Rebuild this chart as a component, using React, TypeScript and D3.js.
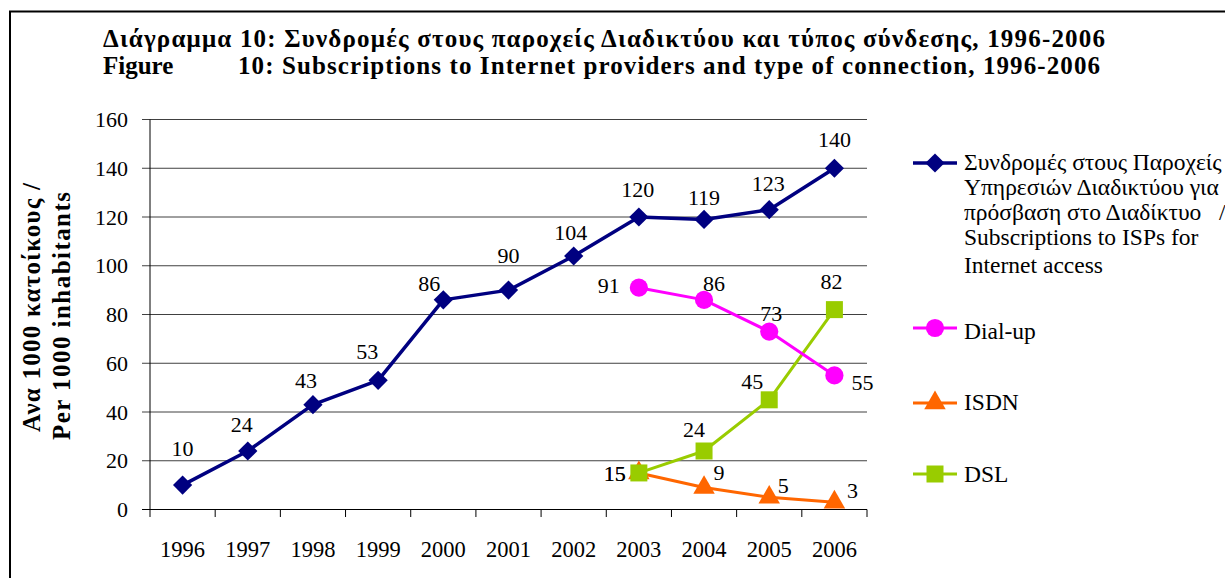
import React from "react";
import * as d3 from "d3";

const years = ["1996","1997","1998","1999","2000","2001","2002","2003","2004","2005","2006"];
const isps = [10, 24, 43, 53, 86, 90, 104, 120, 119, 123, 140];
const dialup = [null, null, null, null, null, null, null, 91, 86, 73, 55];
const isdn = [null, null, null, null, null, null, null, 15, 9, 5, 3];
const dsl = [null, null, null, null, null, null, null, 15, 24, 45, 82];
const yTicks = [0, 20, 40, 60, 80, 100, 120, 140, 160];

const titleLine1 = "Διάγραμμα 10: Συνδρομές στους παροχείς Διαδικτύου και τύπος σύνδεσης, 1996-2006";
const titleLine2a = "Figure";
const titleLine2b = "10: Subscriptions to Internet providers and type of connection, 1996-2006";
const yTitle1 = "Ανα 1000 κατοίκους /";
const yTitle2 = "Per 1000 inhabitants";
const ispLegend = [
  "Συνδρομές στους Παροχείς",
  "Υπηρεσιών Διαδικτύου για",
  "πρόσβαση στο Διαδίκτυο",
  "Subscriptions to ISPs for",
  "Internet access",
];

const FONT = "'Liberation Serif', 'Times New Roman', serif";

// label offsets (center of label relative to point)
const labelOffsets: Record<string, [number, number][]> = {
  isps: [[0,-37],[-6,-27],[-7,-24],[-11,-29],[-14,-17],[0,-35],[-3,-24],[-1,-28],[0,-22],[-1,-26],[0,-29]],
  dialup: [[0,0],[0,0],[0,0],[0,0],[0,0],[0,0],[0,0],[-30,-2],[10,-17],[2,-18],[28,7]],
  isdn: [[0,0],[0,0],[0,0],[0,0],[0,0],[0,0],[0,0],[-24,0],[15,-15],[14,-12],[18,-12]],
  dsl: [[0,0],[0,0],[0,0],[0,0],[0,0],[0,0],[0,0],[-24,0],[-10,-22],[-17,-19],[-3,-28]],
};

const series = [
  { key: "isps", values: isps, color: "#000080", width: 3.5, symbol: "diamond" },
  { key: "isdn", values: isdn, color: "#FF6600", width: 3, symbol: "triangle" },
  { key: "dsl", values: dsl, color: "#99CC00", width: 3, symbol: "square" },
  { key: "dialup", values: dialup, color: "#FF00FF", width: 3, symbol: "circle" },
];

function markerPath(kind: string): { d: string; rot: number } {
  if (kind === "diamond") return { d: d3.symbol(d3.symbolSquare, 185)() as string, rot: 45 };
  if (kind === "circle") return { d: d3.symbol(d3.symbolCircle, 260)() as string, rot: 0 };
  if (kind === "triangle") return { d: d3.symbol(d3.symbolTriangle, 200)() as string, rot: 0 };
  return { d: d3.symbol(d3.symbolSquare, 289)() as string, rot: 0 };
}

export default function App() {
  const W = 1225, H = 578;
  const x = d3.scaleBand<string>().domain(years).range([150, 867]);
  const y = d3.scaleLinear().domain([0, 160]).range([509.5, 119.5]);
  const cx = (yr: string) => (x(yr) as number) + x.bandwidth() / 2;

  const line = d3
    .line<number | null>()
    .defined((d) => d !== null)
    .x((_, i) => cx(years[i]))
    .y((d) => y(d as number));

  const legendItems = [
    { s: series[0], cy: 163, texts: ispLegend, baselines: [170, 195, 220, 245, 273] },
    { s: series[3], cy: 328, texts: ["Dial-up"], baselines: [339] },
    { s: series[1], cy: 403, texts: ["ISDN"], baselines: [410] },
    { s: series[2], cy: 474, texts: ["DSL"], baselines: [482] },
  ];

  const txt = { fontFamily: FONT } as React.CSSProperties;

  return (
    <svg width={W} height={H} style={{ position: "absolute", left: 0, top: 0, background: "#fff", fontFamily: FONT }}>
      <rect x={0} y={0} width={W} height={H} fill="#fff" />
      {/* frame */}
      <path d={`M10,${H + 5} L10,11.5 L${W + 5},11.5`} fill="none" stroke="#000" strokeWidth={2} />

      {/* title */}
      <text x={103} y={47} fontSize={25} fontWeight="bold" style={txt} textLength={1002} lengthAdjust="spacing">{titleLine1}</text>
      <text x={103} y={74} fontSize={25} fontWeight="bold" style={txt}>{titleLine2a}</text>
      <text x={238} y={74} fontSize={25} fontWeight="bold" style={txt} textLength={862} lengthAdjust="spacing">{titleLine2b}</text>

      {/* y axis title */}
      <text transform="translate(40,432) rotate(-90)" fontSize={25} fontWeight="bold" style={txt} textLength={249} lengthAdjust="spacing">{yTitle1}</text>
      <text transform="translate(70,440) rotate(-90)" fontSize={25} fontWeight="bold" style={txt} textLength={248} lengthAdjust="spacing">{yTitle2}</text>

      {/* gridlines and y ticks */}
      {yTicks.map((t) => (
        <g key={t}>
          <line x1={142} x2={867} y1={y(t)} y2={y(t)} stroke={t === 0 ? "#000" : "#404040"} strokeWidth={1} />
          <text x={128} y={y(t)} dy="0.35em" textAnchor="end" fontSize={22} style={txt}>{t}</text>
        </g>
      ))}
      {/* y axis */}
      <line x1={150} x2={150} y1={119.5} y2={509.5} stroke="#000" strokeWidth={1} />
      {/* x ticks */}
      {[...years.map((yr) => x(yr) as number), 867].map((px, i) => (
        <line key={i} x1={px} x2={px} y1={509.5} y2={517} stroke="#000" strokeWidth={1} />
      ))}
      {years.map((yr) => (
        <text key={yr} x={cx(yr)} y={557} textAnchor="middle" fontSize={22.5} style={txt}>{yr}</text>
      ))}

      {/* lines */}
      {series.map((s) => (
        <path key={s.key} d={line(s.values) as string} fill="none" stroke={s.color} strokeWidth={s.width} strokeLinejoin="round" />
      ))}
      {/* markers */}
      {series.map((s) => {
        const m = markerPath(s.symbol);
        return s.values.map((v, i) =>
          v === null ? null : (
            <path key={s.key + i} d={m.d} fill={s.color} transform={`translate(${cx(years[i])},${y(v)}) rotate(${m.rot})`} />
          )
        );
      })}
      {/* labels */}
      {series.map((s) =>
        s.values.map((v, i) => {
          if (v === null) return null;
          const [dx, dy] = labelOffsets[s.key][i];
          return (
            <text key={"l" + s.key + i} x={cx(years[i]) + dx} y={y(v) + dy} dy="0.35em" textAnchor="middle" fontSize={22} style={txt}>
              {v}
            </text>
          );
        })
      )}

      {/* legend */}
      {legendItems.map((it) => {
        const m = markerPath(it.s.symbol);
        return (
          <g key={it.s.key}>
            <line x1={913} x2={957} y1={it.cy} y2={it.cy} stroke={it.s.color} strokeWidth={it.s.width} />
            <path d={m.d} fill={it.s.color} transform={`translate(935,${it.cy}) rotate(${m.rot})`} />
            {it.texts.map((t, j) => (
              <text key={j} x={964} y={it.baselines[j]} fontSize={23.5} style={txt}>{t}</text>
            ))}
          </g>
        );
      })}
      <text x={1219} y={220} fontSize={23.5} style={txt}>/</text>
    </svg>
  );
}
